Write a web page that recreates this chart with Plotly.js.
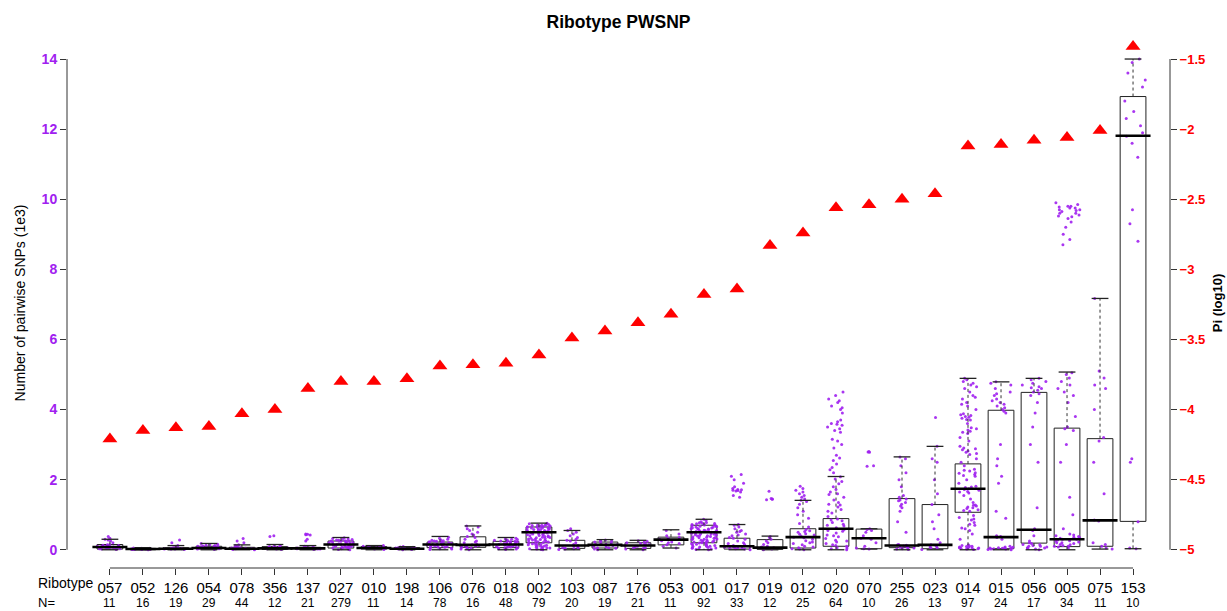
<!DOCTYPE html>
<html>
<head>
<meta charset="utf-8">
<script src="https://cdn.plot.ly/plotly-3.0.1.min.js"></script>
<style>html,body{margin:0;padding:0;background:#fff;}#chart{width:1227px;height:611px;}</style>
</head>
<body>
<div id="chart"></div>
<script>
// Ribotypes and number of isolates
var ribotypes = ["057","052","126","054","078","356","137","027","010","198","106","076","018","002","103","087","176","053","001","017","019","012","020","070","255","023","014","015","056","005","075","153"];
var nIsolates = [11,16,19,29,44,12,21,279,11,14,78,16,48,79,20,19,21,11,92,33,12,25,64,10,26,13,97,24,17,34,11,10];

// Nucleotide diversity Pi (log10), right axis
var piLog10 = [-4.21,-4.15,-4.13,-4.12,-4.03,-4.00,-3.85,-3.80,-3.80,-3.78,-3.69,-3.68,-3.67,-3.61,-3.49,-3.44,-3.38,-3.32,-3.18,-3.14,-2.83,-2.74,-2.56,-2.54,-2.50,-2.46,-2.12,-2.11,-2.08,-2.06,-2.01,-1.41];

// Box statistics of pairwise SNPs (1e3)
var q1 =           [0.02,0.00,0.01,0.02,0.01,0.01,0.02,0.05,0.02,0.01,0.06,0.07,0.06,0.20,0.04,0.05,0.04,0.14,0.20,0.02,0.01,0.05,0.10,0.03,0.06,0.03,1.07,0.03,0.19,0.09,0.10,0.81];
var median =       [0.08,0.02,0.03,0.05,0.03,0.04,0.04,0.15,0.05,0.03,0.15,0.14,0.15,0.50,0.12,0.14,0.12,0.29,0.50,0.10,0.06,0.36,0.60,0.33,0.12,0.14,1.74,0.36,0.57,0.30,0.84,11.81];
var q3 =           [0.15,0.04,0.06,0.10,0.07,0.09,0.07,0.25,0.09,0.06,0.22,0.37,0.24,0.65,0.27,0.22,0.20,0.36,0.70,0.33,0.29,0.60,0.89,0.59,1.46,1.29,2.45,3.98,4.49,3.47,3.17,12.93];
var lowerWhisker = [0.00,0.00,0.00,0.00,0.00,0.00,0.00,0.00,0.00,0.00,0.00,0.00,0.00,0.00,0.00,0.00,0.00,0.05,0.00,0.00,0.00,0.00,0.00,0.02,0.00,0.00,0.00,0.00,0.00,0.00,0.02,0.03];
var upperWhisker = [0.30,0.06,0.12,0.18,0.14,0.15,0.12,0.35,0.12,0.09,0.38,0.68,0.35,0.76,0.55,0.29,0.27,0.57,0.87,0.72,0.39,1.41,2.09,0.60,2.65,2.95,4.89,4.79,4.89,5.07,7.17,14.00];

// Pairwise SNP distances (1e3), sampled per ribotype
var snps057 = [0.01,0.02,0.03,0.04,0.05,0.06,0.07,0.08,0.09,0.1,0.11,0.12,0.13,0.14,0.15,0.05,0.08,0.1,0.03,0.12,0.2,0.25,0.3,0.33,0.38,0.28];
var snps052 = [0.0,0.01,0.02,0.03,0.04,0.02,0.01,0.03,0.05,0.02,0.04,0.01,0.03,0.02];
var snps126 = [0.01,0.02,0.03,0.04,0.05,0.06,0.02,0.03,0.1,0.12,0.2,0.28,0.02,0.04];
var snps054 = [0.01,0.03,0.05,0.07,0.09,0.1,0.12,0.14,0.16,0.18,0.04,0.06,0.08,0.11,0.13,0.02,0.05,0.09];
var snps078 = [0.0,0.02,0.03,0.05,0.06,0.07,0.04,0.01,0.1,0.14,0.2,0.25,0.32,0.03,0.05,0.08,0.12];
var snps356 = [0.01,0.02,0.04,0.06,0.08,0.1,0.12,0.05,0.03,0.07,0.38,0.4,0.09];
var snps137 = [0.01,0.02,0.03,0.04,0.05,0.06,0.07,0.08,0.1,0.25,0.3,0.42,0.44,0.45,0.43,0.02,0.05];
var snps027 = [0.0,0.02,0.04,0.06,0.08,0.1,0.12,0.14,0.16,0.18,0.2,0.22,0.24,0.26,0.28,0.3,0.32,0.01,0.03,0.05,0.07,0.09,0.11,0.13,0.15,0.17,0.19,0.21,0.23,0.25,0.27,0.29,0.31,0.05,0.1,0.15,0.2,0.25,0.34];
var snps010 = [0.01,0.03,0.05,0.07,0.09,0.1,0.04,0.06,0.08,0.12,0.02];
var snps198 = [0.0,0.01,0.02,0.03,0.04,0.05,0.06,0.07,0.08,0.09,0.03,0.05];
var snps106 = [0.01,0.03,0.05,0.07,0.09,0.11,0.13,0.15,0.17,0.19,0.21,0.23,0.25,0.27,0.3,0.33,0.36,0.02,0.06,0.1,0.14,0.18,0.22,0.26,0.08,0.12,0.16,0.2,0.24,0.28];
var snps076 = [0.0,0.02,0.05,0.08,0.1,0.12,0.14,0.16,0.2,0.25,0.3,0.35,0.38,0.45,0.5,0.55,0.6,0.65,0.68,0.04,0.07,0.11,0.22,0.42];
var snps018 = [0.01,0.03,0.05,0.07,0.09,0.11,0.13,0.15,0.17,0.19,0.21,0.23,0.25,0.27,0.29,0.31,0.33,0.02,0.06,0.1,0.14,0.18,0.22,0.26,0.3,0.04,0.08,0.12,0.16,0.2,0.24,0.28];
var snps002 = [0.0,0.02,0.05,0.06,0.09,0.1,0.13,0.14,0.17,0.18,0.21,0.22,0.25,0.26,0.29,0.3,0.33,0.34,0.37,0.38,0.41,0.42,0.45,0.46,0.49,0.5,0.53,0.54,0.57,0.58,0.61,0.62,0.65,0.66,0.69,0.7,0.72,0.01,0.04,0.08,0.11,0.15,0.19,0.24,0.28,0.31,0.36,0.4,0.44,0.47,0.52,0.56,0.59,0.63,0.67,0.71,0.55,0.6,0.64,0.68,0.73,0.74,0.76,0.03,0.07,0.12,0.16,0.23,0.27,0.32,0.35,0.39,0.43,0.48,0.51,0.58,0.62,0.66,0.7];
var snps103 = [0.01,0.03,0.05,0.08,0.1,0.12,0.15,0.2,0.25,0.27,0.3,0.35,0.4,0.45,0.5,0.55,0.6,0.04,0.06,0.02];
var snps087 = [0.0,0.02,0.04,0.06,0.08,0.1,0.12,0.14,0.16,0.18,0.2,0.22,0.24,0.26,0.28,0.05,0.15,0.25];
var snps176 = [0.0,0.02,0.04,0.06,0.08,0.1,0.12,0.14,0.16,0.18,0.2,0.22,0.24,0.26,0.05,0.15];
var snps053 = [0.05,0.1,0.14,0.18,0.22,0.26,0.29,0.32,0.35,0.4,0.45,0.55,0.2,0.3];
var snps001 = [0.0,0.03,0.04,0.07,0.08,0.11,0.12,0.15,0.16,0.19,0.2,0.23,0.24,0.27,0.28,0.31,0.32,0.35,0.36,0.39,0.4,0.43,0.44,0.47,0.48,0.51,0.52,0.55,0.56,0.59,0.6,0.63,0.64,0.67,0.68,0.71,0.72,0.75,0.76,0.02,0.06,0.1,0.14,0.18,0.22,0.26,0.3,0.34,0.38,0.42,0.46,0.5,0.54,0.58,0.62,0.66,0.7,0.74,0.77,0.8,0.84,0.87,0.01,0.05,0.09,0.13,0.17,0.21,0.25,0.29,0.33,0.37,0.41,0.45,0.49,0.53,0.57,0.61,0.65,0.69,0.73,0.78];
var snps017 = [0.0,0.02,0.04,0.05,0.07,0.09,0.1,0.12,0.15,0.18,0.2,0.25,0.3,0.33,0.35,0.4,0.45,0.5,0.55,0.6,0.65,0.7,0.72,0.03,0.06,0.08,0.11,0.42,0.52,1.5,1.55,1.65,1.68,1.7,1.72,1.75,1.8,1.9,2.0,2.1,2.15,1.69,1.71];
var snps019 = [0.0,0.02,0.04,0.06,0.08,0.1,0.15,0.2,0.25,0.3,0.35,0.38,1.44,1.45,1.46,1.67,1.43,0.03,0.05];
var snps012 = [0.0,0.03,0.06,0.1,0.14,0.18,0.22,0.26,0.3,0.34,0.38,0.42,0.46,0.5,0.54,0.58,0.02,0.08,0.2,0.36,0.44,0.52,0.65,0.75,0.9,1.0,1.1,1.2,1.3,1.38,1.41,1.45,1.5,1.55,1.6,1.65,1.7,1.75,1.81];
var snps020 = [0.0,0.03,0.06,0.1,0.14,0.18,0.22,0.27,0.32,0.37,0.42,0.48,0.53,0.58,0.63,0.68,0.73,0.78,0.83,0.88,0.05,0.12,0.25,0.4,0.55,0.7,0.85,0.95,1.05,1.15,1.22,1.28,1.35,1.42,1.5,1.58,1.65,1.72,1.8,1.88,1.95,2.02,2.08,1.1,1.3,1.6,2.2,2.28,2.35,2.45,2.55,2.62,2.7,2.9,3.0,3.1,3.15,3.35,3.45,3.5,3.55,3.6,3.65,3.7,3.4,3.58,3.9,4.0,4.1,4.2,4.3,4.4,4.5,4.05,4.25];
var snps070 = [0.02,0.05,0.1,0.2,0.3,0.33,0.4,0.5,0.55,0.6,2.38,2.4,2.78,2.8,2.79,0.03,0.58];
var snps255 = [0.01,0.03,0.05,0.07,0.09,0.11,0.13,0.15,0.02,0.06,0.1,0.14,1.1,1.2,1.3,1.35,1.4,1.45,1.5,1.55,1.25,1.42,1.8,2.0,2.2,2.4,2.6,2.65,0.5,0.8];
var snps023 = [0.01,0.05,0.1,0.14,0.2,0.3,0.6,0.8,1.0,1.29,1.6,2.0,2.5,2.6,2.95,3.77,0.05,0.08];
var snps014 = [0.01,0.02,0.03,0.04,0.05,0.06,0.07,0.08,0.1,0.12,0.03,0.05,0.09,0.11,0.14,0.3,0.45,0.55,0.62,0.7,0.78,0.85,0.92,0.98,0.6,0.73,0.88,1.1,1.14,1.18,1.22,1.25,1.28,1.12,1.2,1.27,1.35,1.45,1.55,1.62,1.66,1.7,1.74,1.78,1.81,1.65,1.72,1.79,1.9,2.0,2.1,2.15,2.2,2.25,2.3,2.12,2.18,2.27,2.4,2.5,2.6,2.72,2.78,2.85,2.9,2.95,2.75,2.82,2.88,3.1,3.2,3.32,3.38,3.42,3.48,3.35,3.45,3.6,3.7,3.75,3.8,3.85,3.88,3.72,3.78,3.83,4.0,4.1,4.2,4.3,4.4,4.5,4.15,4.35,4.6,4.7,4.8,4.85,4.89,4.65,4.75];
var snps015 = [0.0,0.01,0.02,0.03,0.04,0.05,0.06,0.07,0.08,0.02,0.04,0.06,0.1,0.3,0.35,0.38,0.4,0.9,1.1,1.9,2.1,2.4,2.6,3.0,3.9,3.95,4.0,4.05,4.1,4.15,4.2,4.3,4.4,4.5,4.6,4.7,4.75,4.79,4.25,4.45];
var snps056 = [0.0,0.02,0.04,0.06,0.08,0.1,0.12,0.15,0.18,0.2,0.05,0.1,0.14,0.25,0.4,0.55,0.6,1.2,2.5,3.0,3.5,3.9,4.2,4.45,4.5,4.55,4.6,4.65,4.7,4.75,4.8,4.85,4.89,4.4,4.62];
var snps005 = [0.05,0.08,0.1,0.12,0.15,0.18,0.2,0.22,0.25,0.28,0.3,0.33,0.35,0.38,0.4,0.42,0.45,0.1,0.2,0.3,0.14,0.26,0.36,0.6,1.0,1.5,2.5,3.0,3.4,3.45,3.5,3.8,4.2,4.4,4.6,4.8,4.9,5.0,5.05,4.5,4.7,8.7,8.85,9.0,9.2,9.35,9.45,9.5,9.55,9.6,9.65,9.7,9.75,9.8,9.85,9.9,9.6,9.7,9.75,9.8,9.52,9.68,9.78];
var snps075 = [0.02,0.05,0.1,0.15,0.2,0.82,0.85,1.6,2.5,3.1,3.2,4.0,4.6,4.7,4.9,5.1,7.17];
var snps153 = [0.03,0.05,0.8,2.5,2.6,8.8,9.3,9.7,11.2,11.6,11.8,11.9,12.1,12.3,12.5,12.8,13.2,13.4,13.6,13.9,14.0];

var snpSamples = [snps057,snps052,snps126,snps054,snps078,snps356,snps137,snps027,snps010,snps198,snps106,snps076,snps018,snps002,snps103,snps087,snps176,snps053,snps001,snps017,snps019,snps012,snps020,snps070,snps255,snps023,snps014,snps015,snps056,snps005,snps075,snps153];

var PURPLE = '#A020F0';
var FONT = 'Liberation Sans, Arial, Helvetica, sans-serif';

// flatten samples for jittered point trace
var ptX = [], ptY = [];
snpSamples.forEach(function(arr, i){ arr.forEach(function(v){ ptX.push(ribotypes[i]); ptY.push(v); }); });

// whisker segments and caps
var wX = [], wY = [], capX = [], capY = [];
ribotypes.forEach(function(r, i){
  wX.push(r, r, null, r, r, null);
  wY.push(q3[i], upperWhisker[i], null, q1[i], lowerWhisker[i], null);
  capX.push(r, r);
  capY.push(upperWhisker[i], lowerWhisker[i]);
});

var traces = [
  {type:'box', x:ribotypes, q1:q1, median:median, q3:q3, lowerfence:q1, upperfence:q3, width:0.78,
   line:{color:'#222', width:1}, fillcolor:'rgba(0,0,0,0)', whiskerwidth:0, boxpoints:false,
   showlegend:false, hoverinfo:'skip'},
  {type:'scatter', mode:'lines', x:wX, y:wY, line:{color:'#333', width:1, dash:'dot'},
   connectgaps:false, showlegend:false, hoverinfo:'skip'},
  {type:'scatter', mode:'markers', x:capX, y:capY,
   marker:{symbol:'line-ew', size:12, color:'#222', line:{color:'#222', width:1.3}},
   showlegend:false, hoverinfo:'skip'},
  {type:'box', x:ptX, y:ptY, boxpoints:'all', jitter:1, pointpos:0, width:0.8,
   marker:{color:PURPLE, size:3, opacity:0.9}, line:{width:0, color:'rgba(0,0,0,0)'},
   fillcolor:'rgba(0,0,0,0)', showlegend:false, hoveron:'points'},
  {type:'scatter', mode:'markers', x:ribotypes, y:median,
   marker:{symbol:'line-ew', size:25, color:'#000', line:{color:'#000', width:2.6}},
   showlegend:false, hoverinfo:'skip'},
  {type:'scatter', mode:'markers', x:ribotypes, y:piLog10, yaxis:'y2',
   marker:{symbol:'triangle-up', size:13, color:'#FF0000'}, showlegend:false}
];

var annotations = [];
ribotypes.forEach(function(r, i){
  annotations.push({xref:'x', yref:'paper', x:i, y:-0.066, text:String(nIsolates[i]),
    showarrow:false, font:{family:FONT, size:12, color:'#000'}, xanchor:'center', yanchor:'middle'});
});
annotations.push({xref:'paper', yref:'paper', x:-0.028, y:-0.029, text:'Ribotype', showarrow:false,
  xanchor:'left', yanchor:'middle', font:{family:FONT, size:14, color:'#000'}});
annotations.push({xref:'paper', yref:'paper', x:-0.028, y:-0.066, text:'N=', showarrow:false,
  xanchor:'left', yanchor:'middle', font:{family:FONT, size:13, color:'#000'}});

var layout = {
  width:1227, height:611,
  margin:{l:67, r:57, t:38, b:43},
  paper_bgcolor:'#fff', plot_bgcolor:'#fff',
  font:{family:FONT, color:'#000'},
  title:{text:'<b>Ribotype PWSNP</b>', x:0.5, xref:'paper', y:0.964, yanchor:'middle',
         font:{family:FONT, size:17.5, color:'#000'}},
  boxmode:'overlay',
  xaxis:{type:'category', categoryorder:'array', categoryarray:ribotypes, range:[-1.30, 32.12],
         showgrid:false, zeroline:false, showline:false, ticks:'outside', ticklen:6, tickcolor:'#333',
         tickfont:{family:FONT, size:15, color:'#000'}, fixedrange:true},
  yaxis:{range:[-0.52, 14.6], tickvals:[0,2,4,6,8,10,12,14], showgrid:false, zeroline:false, showline:false,
         ticks:'outside', ticklen:6, tickcolor:'#333',
         tickfont:{family:FONT, size:14, color:PURPLE, weight:'bold'},
         title:{text:'Number of pairwise SNPs (1e3)', font:{family:FONT, size:14, color:'#000'}, standoff:12}},
  yaxis2:{overlaying:'y', side:'right', range:[-5.13, -1.35], tickvals:[-5,-4.5,-4,-3.5,-3,-2.5,-2,-1.5],
          showgrid:false, zeroline:false, showline:false, ticks:'outside', ticklen:6, tickcolor:'#333',
          tickfont:{family:FONT, size:13, color:'#FF0000', weight:'bold'},
          title:{text:'<b>Pi (log10)</b>', font:{family:FONT, size:13, color:'#000'}, standoff:8}},
  shapes:[
    {type:'line', xref:'paper', yref:'y', x0:0, x1:0, y0:0, y1:14, line:{color:'#333', width:1}},
    {type:'line', xref:'paper', yref:'y2', x0:1, x1:1, y0:-5, y1:-1.5, line:{color:'#333', width:1}},
    {type:'line', xref:'x', yref:'paper', x0:0, x1:ribotypes.length-1, y0:0, y1:0, line:{color:'#333', width:1}}
  ],
  annotations:annotations,
  showlegend:false
};

Plotly.newPlot('chart', traces, layout, {displayModeBar:false, staticPlot:true});
</script>
</body>
</html>
